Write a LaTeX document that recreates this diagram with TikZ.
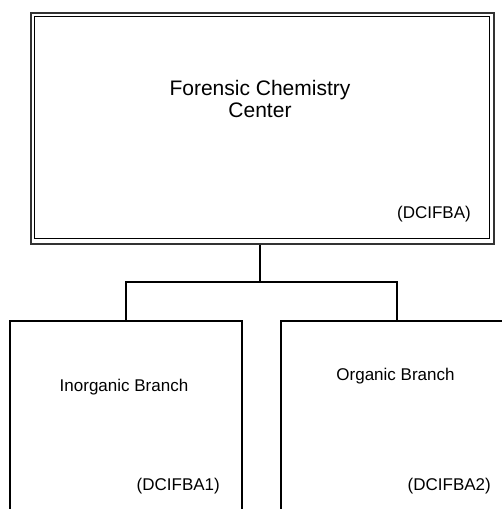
\documentclass[tikz,border=0pt]{standalone}
\usepackage{fontspec}
\setmainfont{Liberation Sans}
\begin{document}
\begin{tikzpicture}[x=1pt,y=-1pt,
  box/.style={draw=black,line width=1.5pt,rectangle,inner sep=0pt,anchor=north west},
  wire/.style={draw=black,line width=1.5pt},
  bigtxt/.style={font=\fontsize{21}{22}\selectfont,align=center,anchor=base,inner sep=0pt,text=black},
  smalltxt/.style={font=\fontsize{17}{20}\selectfont,anchor=base,inner sep=0pt,text=black}]
\useasboundingbox (0,0) rectangle (502,509);
\clip (0,0) rectangle (502,509);
% top box with double border
\node[box,draw=black!80,line width=2.2pt,minimum width=463.5pt,minimum height=230.5pt] (fcc) at (29.5,12) {};
\node[box,line width=1.2pt,minimum width=455pt,minimum height=222.5pt] (fcci) at (33.5,15.5) {};
\node[bigtxt] (fcct) at (260,117) {Forensic Chemistry\\Center};
\node[smalltxt,anchor=base east] (fccc) at (471,218) {(DCIFBA)};
% branch boxes
\node[box,minimum width=232pt,minimum height=240pt] (inorg) at (9,320) {};
\node[box,minimum width=232pt,minimum height=240pt] (org) at (280,320) {};
\node[smalltxt] (inorgt) at (124,391) {Inorganic Branch};
\node[smalltxt,anchor=base east] (inorgc) at (220,490) {(DCIFBA1)};
\node[smalltxt] (orgt) at (395.5,380) {Organic Branch};
\node[smalltxt,anchor=base east] (orgc) at (491,490) {(DCIFBA2)};
% connectors
\coordinate (j) at (260,282);
\draw[wire] (j |- fcc.south) -- (j);
\draw[wire] (inorg.north) -- (inorg.north |- j) -- (org.north |- j) -- (org.north);
\end{tikzpicture}
\end{document}
